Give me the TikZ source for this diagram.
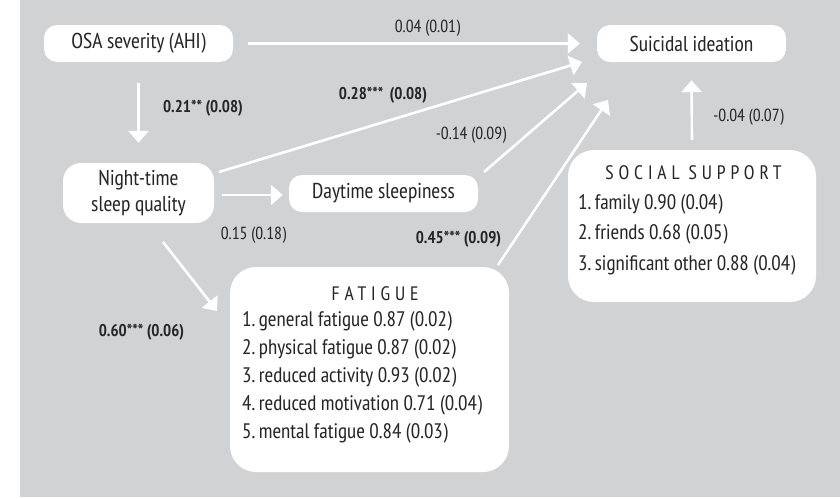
\documentclass[tikz,border=0pt]{standalone}
\usepackage{fontspec}
\setmainfont{PT Sans Narrow}
\newfontfamily\spacedfont[LetterSpace=25]{PT Sans Narrow}
\usetikzlibrary{arrows.meta}
\definecolor{bggray}{HTML}{D1D2D4}
\definecolor{txt}{HTML}{262626}
\begin{document}
\begin{tikzpicture}[x=1pt,y=-1pt,
  box/.style={fill=white, rounded corners=13pt, inner sep=0pt, text=txt,
    font=\fontsize{21.5}{26}\selectfont, align=center},
  bigbox/.style={fill=white, rounded corners=26pt, inner sep=0pt},
  conn/.style={draw=white, line width=2.6pt, -{Triangle[length=12pt,width=20pt]}},
  lab/.style={text=txt, font=\fontsize{17.5}{19}\selectfont, inner sep=0pt},
  blab/.style={text=txt, font=\fontsize{17}{19}\selectfont\bfseries, inner sep=0pt},
  itm/.style={text=txt, font=\fontsize{21}{23}\selectfont, inner sep=0pt, anchor=west},
  ttl/.style={text=txt, font=\fontsize{19.5}{21}\spacedfont, inner sep=0pt}]
\useasboundingbox (0,0) rectangle (840,498);
\fill[bggray] (20,0) rectangle (840,497);

% nodes
\node[box, minimum width=189pt, minimum height=37pt] (osa) at (138.5,43.5) {OSA severity (AHI)};
\node[box, minimum width=189pt, minimum height=37pt] (si) at (691.5,43.5) {Suicidal ideation};
\node[box, rounded corners=18pt, minimum width=151pt, minimum height=60pt] (night) at (138.5,193) {Night-time\\sleep quality};
\node[box, minimum width=189pt, minimum height=37pt] (day) at (383.5,193.5) {Daytime sleepiness};
\node[bigbox, minimum width=248pt, minimum height=152pt] (soc) at (692,226) {};
\node[bigbox, minimum width=279pt, minimum height=205pt] (fat) at (369.5,369.5) {};

% box contents
\node[ttl] (fattl) at (375,294) {FATIGUE};
\node[itm] (f1) at (242,321) {1.\,general fatigue 0.87 (0.02)};
\node[itm] (f2) at (242,349) {2.\,physical fatigue 0.87 (0.02)};
\node[itm] (f3) at (242,377) {3.\,reduced activity 0.93 (0.02)};
\node[itm] (f4) at (242,405) {4.\,reduced motivation 0.71 (0.04)};
\node[itm] (f5) at (242,433) {5.\,mental fatigue 0.84 (0.03)};

\node[ttl] (sottl) at (693.5,173) {SOCIAL SUPPORT};
\node[itm] (s1) at (578,204) {1.\,family 0.90 (0.04)};
\node[itm] (s2) at (578,234) {2.\,friends 0.68 (0.05)};
\node[itm] (s3) at (578,265) {3.\,significant other 0.88 (0.04)};

% connector end points
\coordinate (nsA) at (219,172);
\coordinate (nsB) at (582,62);
\coordinate (dsA) at (484,172);
\coordinate (dsB) at (587,83);
\coordinate (fsA) at (498,265);
\coordinate (fsB) at (608,100);
\coordinate (nfA) at (163,242);
\coordinate (nfB) at (217,311);

% connectors
\draw[conn] ([xshift=15pt]osa.east) -- ([xshift=-17pt]si.west);
\draw[conn] ([yshift=-21pt]osa.south) -- ([yshift=20pt]night.north);
\draw[conn] (nsA) -- (nsB);
\draw[conn] (dsA) -- (dsB);
\draw[conn] (fsA) -- (fsB);
\draw[conn] ([xshift=8pt,yshift=-2pt]night.east) -- ([xshift=-6pt,yshift=-1.5pt]day.west);
\draw[conn] (nfA) -- (nfB);
\draw[conn] ([yshift=10pt]soc.north) -- ([yshift=-18pt]si.south);

% labels
\node[lab] (l1) at (427.5,28) {0.04 (0.01)};
\node[blab] (l2) at (203,108) {0.21** (0.08)};
\node[blab] (l3) at (383,95) {0.28***\ \,(0.08)};
\node[lab] (l4) at (471,135) {-0.14 (0.09)};
\node[lab] (l5) at (253.5,235) {0.15 (0.18)};
\node[blab] (l6) at (458.5,239) {0.45*** (0.09)};
\node[blab] (l7) at (141.5,332) {0.60*** (0.06)};
\node[lab] (l8) at (748.5,117) {-0.04 (0.07)};
\end{tikzpicture}
\end{document}
